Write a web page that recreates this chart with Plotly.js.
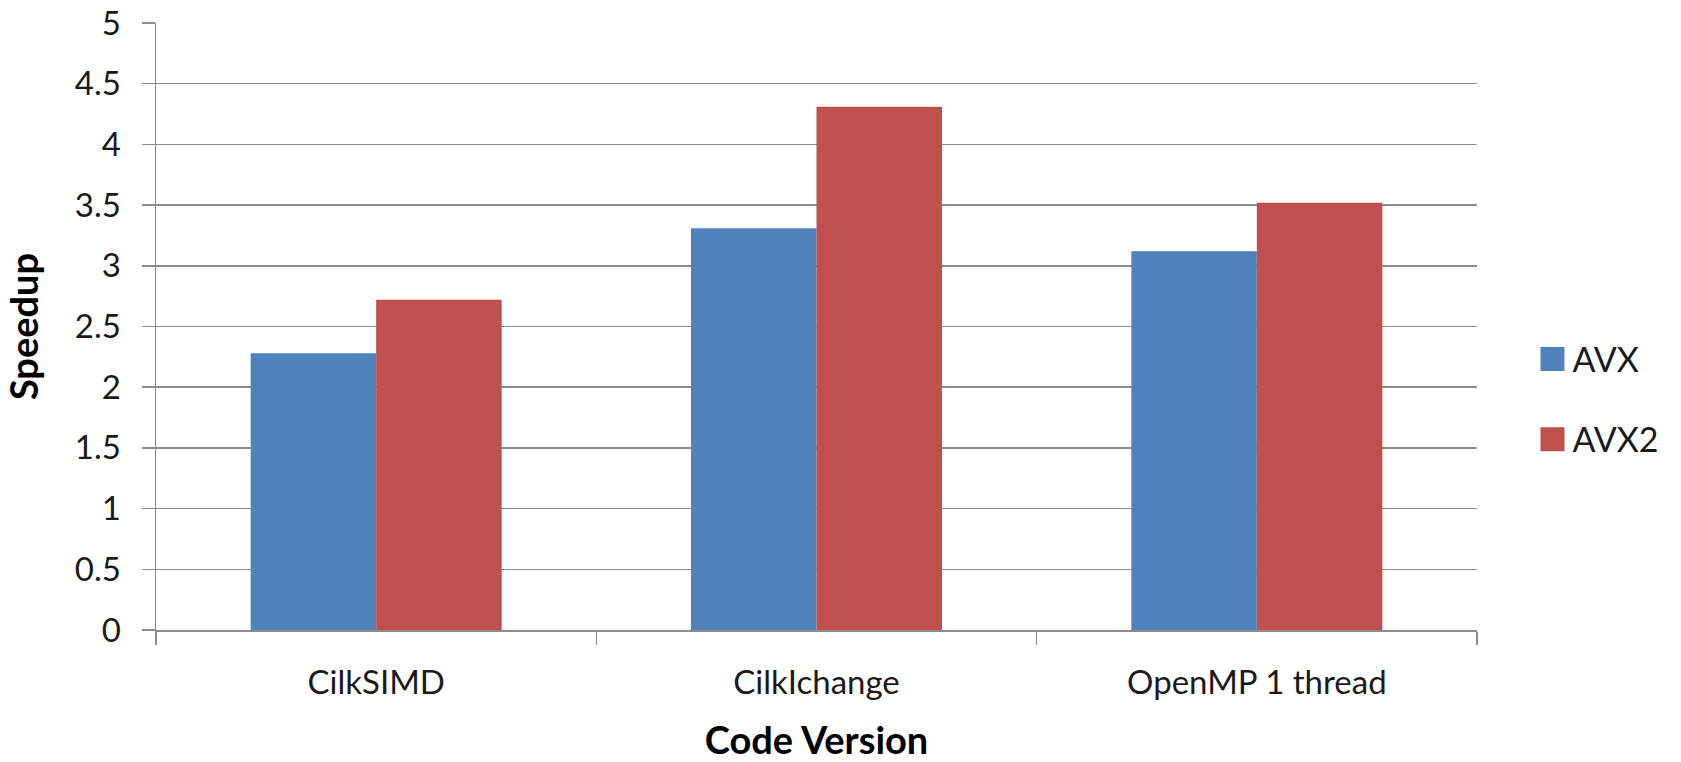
<!DOCTYPE html>
<html>
<head>
<meta charset="utf-8">
<script src="https://cdn.plot.ly/plotly-3.0.1.min.js"></script>
<style>html,body{margin:0;padding:0;background:#fff;}#chart{width:1681px;height:762px;}</style>
</head>
<body>
<div id="chart"></div>
<script>
const categories = ["CilkSIMD", "CilkIchange", "OpenMP 1 thread"];
const avx = [2.28, 3.31, 3.12];
const avx2 = [2.72, 4.31, 3.52];
const seriesNames = ["AVX", "AVX2"];
const yTicks = [0, 0.5, 1, 1.5, 2, 2.5, 3, 3.5, 4, 4.5, 5];
const yTickText = ["0", "0.5", "1", "1.5", "2", "2.5", "3", "3.5", "4", "4.5", "5"];

const FONT = "Lato, 'Open Sans', sans-serif";
const TXT = "#1a1a1a";
const GRID = "#8c8c8c";

const traces = [
  {type: "bar", name: seriesNames[0], x: categories, y: avx, marker: {color: "#4F81BD"}, legendgroup: "a", hoverinfo: "x+y"},
  {type: "bar", name: seriesNames[1], x: categories, y: avx2, marker: {color: "#C0504D"}, legendgroup: "b", hoverinfo: "x+y"}
];

const layout = {
  width: 1681, height: 762,
  margin: {l: 156, r: 204, t: 23, b: 132},
  paper_bgcolor: "#fff", plot_bgcolor: "#fff",
  font: {family: FONT, size: 33, color: TXT},
  barmode: "group", bargap: 0.43, bargroupgap: 0,
  showlegend: true,
  legend: {x: 1.042, xanchor: "left", y: 0.38, yanchor: "middle", tracegroupgap: 33,
           font: {family: FONT, size: 34, color: TXT}, bgcolor: "rgba(0,0,0,0)"},
  xaxis: {
    type: "category",
    tickson: "boundaries",
    ticks: "outside", ticklen: 13, tickwidth: 1.5, tickcolor: GRID,
    showline: true, linecolor: GRID, linewidth: 1.5,
    showgrid: false, zeroline: false,
    tickfont: {family: FONT, size: 33, color: TXT},
    ticklabelstandoff: 23,
    title: {text: "Code Version", font: {family: FONT, size: 38, color: "#000", weight: "bold"}, standoff: 28}
  },
  yaxis: {
    range: [0, 5], tickvals: yTicks, ticktext: yTickText,
    ticks: "outside", ticklen: 13, tickwidth: 1.5, tickcolor: GRID,
    showline: true, linecolor: GRID, linewidth: 1.5,
    showgrid: true, gridcolor: GRID, gridwidth: 1.5,
    zeroline: false,
    tickfont: {family: FONT, size: 33, color: TXT},
    ticklabelstandoff: 14,
    title: {text: "Speedup", font: {family: FONT, size: 38, color: "#000", weight: "bold"}, standoff: 24}
  }
};

Plotly.newPlot("chart", traces, layout, {displayModeBar: false, staticPlot: true}).then(function(gd){
  gd.querySelectorAll(".legend .legendpoints path").forEach(function(p){
    p.setAttribute("d", "M12,12H-12V-12H12Z");
  });
});
</script>
</body>
</html>
